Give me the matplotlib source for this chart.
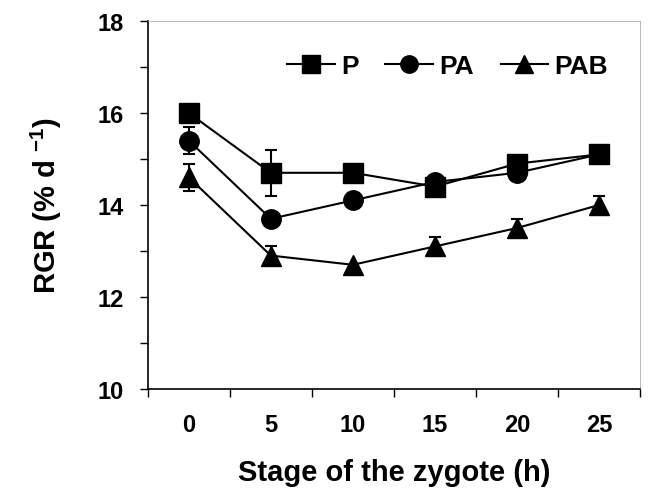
import matplotlib.pyplot as plt
from matplotlib.lines import Line2D
from matplotlib.ticker import FixedLocator, MultipleLocator

plt.rcParams["font.family"] = ["Liberation Sans", "DejaVu Sans"]
plt.rcParams["font.weight"] = "bold"
plt.rcParams["mathtext.fontset"] = "custom"
plt.rcParams["mathtext.rm"] = "Liberation Sans:bold"
plt.rcParams["mathtext.bf"] = "Liberation Sans:bold"
plt.rcParams["mathtext.default"] = "bf"

stage = [0, 5, 10, 15, 20, 25]

p_rgr = [16.0, 14.7, 14.7, 14.4, 14.9, 15.1]
p_err = [0.0, 0.5, 0.0, 0.0, 0.0, 0.0]

pa_rgr = [15.4, 13.7, 14.1, 14.5, 14.7, 15.1]
pa_err = [0.3, 0.0, 0.0, 0.0, 0.0, 0.0]

pab_rgr = [14.6, 12.9, 12.7, 13.1, 13.5, 14.0]
pab_err = [0.3, 0.2, 0.0, 0.2, 0.2, 0.2]

series = [
    ("P", p_rgr, p_err, "s"),
    ("PA", pa_rgr, pa_err, "o"),
    ("PAB", pab_rgr, pab_err, "^"),
]

fig = plt.figure(figsize=(6.48, 4.89), dpi=100)
ax = fig.add_axes([0.228, 0.2025, 0.76, 0.7525])

handles = []
for name, values, errors, marker in series:
    # error bars only where a bar is visible
    ex = [s for s, e in zip(stage, errors) if e > 0]
    ev = [v for v, e in zip(values, errors) if e > 0]
    ee = [e for e in errors if e > 0]
    ax.errorbar(
        ex, ev, yerr=ee,
        fmt="none",
        ecolor="black",
        elinewidth=1.5,
        capsize=4.5,
        capthick=1.5,
        zorder=2,
    )
    ax.plot(
        stage, values,
        color="black",
        marker=marker,
        markersize=14,
        linewidth=1.5,
        zorder=3,
    )
    handles.append(
        Line2D([], [], color="black", marker=marker,
               markersize=12.5, linewidth=1.5, label=name)
    )

ax.set_xlim(-2.5, 27.5)
ax.set_ylim(10, 18)

ax.set_xticks(stage)
ax.set_xticklabels([str(s) for s in stage])
ax.xaxis.set_minor_locator(FixedLocator([-2.5 + 5 * i for i in range(7)]))
ax.tick_params(axis="x", which="major", length=0, pad=17, labelsize=17)
ax.tick_params(axis="x", which="minor", length=6, width=1, direction="out")

ax.set_yticks([10, 12, 14, 16, 18])
ax.yaxis.set_minor_locator(MultipleLocator(1))
ax.tick_params(axis="y", which="major", length=6, width=1, labelsize=17, pad=11)
ax.tick_params(axis="y", which="minor", length=6, width=1)

for label in ax.get_xticklabels() + ax.get_yticklabels():
    label.set_fontweight("bold")

for side in ["top", "right"]:
    ax.spines[side].set_color("#b0b0b0")
    ax.spines[side].set_linewidth(0.6)
for side in ["left", "bottom"]:
    ax.spines[side].set_linewidth(1.2)

ax.set_xlabel("Stage of the zygote (h)", fontsize=21, fontweight="bold", labelpad=16)
ax.set_ylabel(r"RGR (% d $^{-1}$)", fontsize=21, fontweight="bold", labelpad=24)

legend = ax.legend(
    handles=handles,
    loc="center right",
    bbox_to_anchor=(0.962, 0.878),
    ncol=3,
    frameon=False,
    fontsize=19,
    handlelength=1.8,
    handletextpad=0.25,
    columnspacing=1.0,
    borderpad=0,
)
for text in legend.get_texts():
    text.set_fontweight("bold")

fig.savefig("out.png", dpi=100)
